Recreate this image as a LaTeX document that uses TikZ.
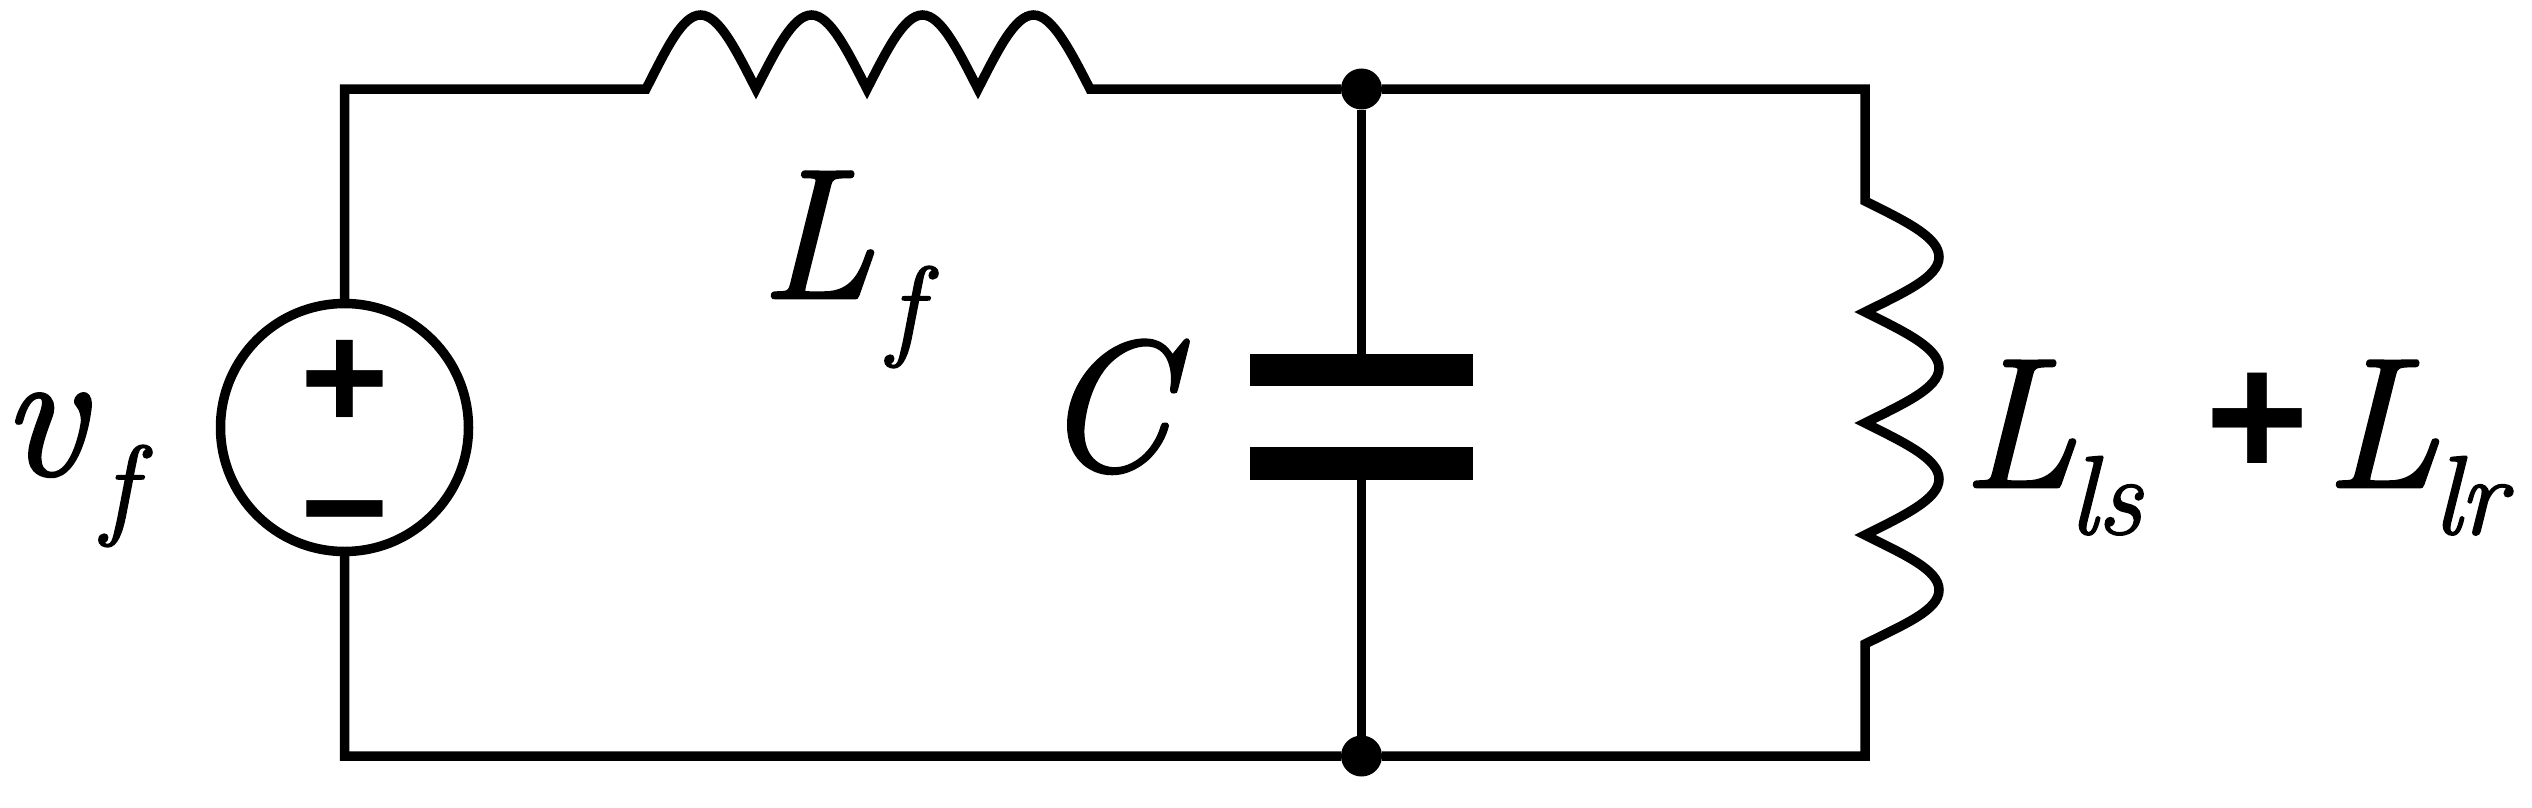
\documentclass[tikz,border=0pt]{standalone}
\usepackage{fontspec}
\setmainfont{Latin Modern Roman}[ItalicFeatures={FakeBold=1.5}]
\newfontfamily\signfont{Liberation Sans}[UprightFont={* Bold}]
\newcommand{\bigit}{\fontsize{185}{185}\selectfont\itshape}
\newcommand{\subit}{\fontsize{112}{112}\selectfont\itshape}
\tikzset{
  wire/.style={line width=9.5pt,line join=miter,black},
  biglabel/.style={anchor=base west,inner sep=0pt,outer sep=0pt,font=\bigit},
  sublabel/.style={anchor=base west,inner sep=0pt,outer sep=0pt,font=\subit},
  signlabel/.style={anchor=center,inner sep=0pt,outer sep=0pt},
  junction/.style={circle,fill=black,draw=none,minimum size=41pt,inner sep=0pt,outer sep=0pt},
  plate/.style={rectangle,fill=black,draw=none,minimum width=223pt,minimum height=32pt,inner sep=0pt,outer sep=0pt},
  source/.style={circle,draw=black,line width=9.5pt,minimum size=248pt,inner sep=0pt,outer sep=0pt}
}
\begin{document}
\begin{tikzpicture}[x=1pt,y=-1pt]
\useasboundingbox (0,0) rectangle (2532,808);
\fill[white] (0,0) rectangle (2532,808);
% corners and component terminals
\coordinate (tl) at (344.5,89);
\coordinate (bl) at (344.5,756);
\coordinate (tr) at (1865,89);
\coordinate (br) at (1865,756);
\coordinate (la) at (646,89);
\coordinate (lb) at (1090,89);
\coordinate (ra) at (1865,201);
\coordinate (rb) at (1865,644);
% components
\node[source] (vs) at (344.5,427.5) {};
\node[junction] (jt) at (1361.5,89) {};
\node[junction] (jb) at (1361.5,756) {};
\node[plate] (c1) at (1361.5,370) {};
\node[plate,minimum height=33pt] (c2) at (1361.5,463.5) {};
% wires
\draw[wire] (vs.north) -- (tl) -- (la)
  .. controls (666,50) and (682,15) .. (700.5,15)
  .. controls (719,15) and (736,50) .. (756,89)
  .. controls (776,50) and (793,15) .. (811.5,15)
  .. controls (830,15) and (847,50) .. (867,89)
  .. controls (887,50) and (904,15) .. (922.5,15)
  .. controls (941,15) and (958,50) .. (978,89)
  .. controls (998,50) and (1015,15) .. (1033.5,15)
  .. controls (1052,15) and (1070,50) .. (lb)
  -- (jt) -- (tr) -- (ra)
  .. controls (1905,221) and (1939,237) .. (1939,257)
  .. controls (1939,277) and (1905,292) .. (1865,312)
  .. controls (1905,332) and (1939,348) .. (1939,368)
  .. controls (1939,388) and (1905,403) .. (1865,423)
  .. controls (1905,443) and (1939,459) .. (1939,479)
  .. controls (1939,499) and (1905,515) .. (1865,535)
  .. controls (1905,555) and (1939,570) .. (1939,590)
  .. controls (1939,610) and (1905,624) .. (rb)
  -- (br) -- (jb) -- (bl) -- (vs.south);
\draw[wire] (jt) -- (c1);
\draw[wire] (c2) -- (jb);
% source signs
\node[signlabel,font=\signfont\fontsize{152}{152}\selectfont] (sp) at (344.5,385) {+};
\node[signlabel,font=\signfont\fontsize{152}{152}\selectfont] (sm) at (344.5,530) {−};
% labels
\node[biglabel] (vlab) at (1,475) {v};
\node[sublabel] (vsub) at (102,524) {f};
\node[biglabel] (Lf) at (760,298) {L};
\node[sublabel] (Lfs) at (888,345) {f};
\node[biglabel] (Clab) at (1041,470) {C};
\node[biglabel] (Ls) at (1962,487) {L};
\node[sublabel] (Lsl) at (2069,534) {l};
\node[sublabel] (Lss) at (2097,534) {s};
\node[signlabel,font=\signfont\fontsize{178}{178}\selectfont] (pl) at (2257,425) {+};
\node[biglabel] (Lr) at (2325,487) {L};
\node[sublabel] (Lrl) at (2433,534) {l};
\node[sublabel] (Lrr) at (2459,534) {r};
\end{tikzpicture}
\end{document}
